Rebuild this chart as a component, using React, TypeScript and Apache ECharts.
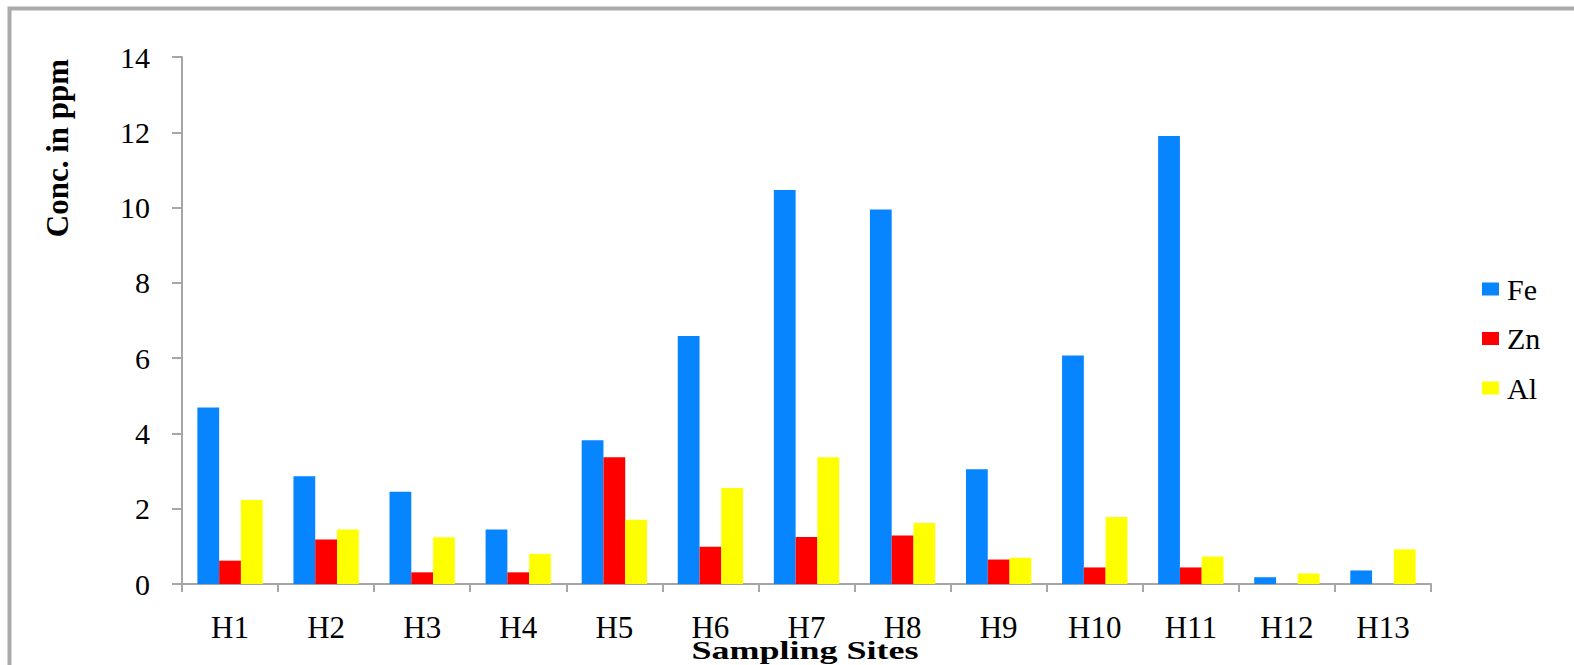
import React, { useEffect, useRef } from "react";
import * as echarts from "echarts";

// Sampling sites and measured concentrations (ppm)
const sites = ["H1", "H2", "H3", "H4", "H5", "H6", "H7", "H8", "H9", "H10", "H11", "H12", "H13"];
const fe = [4.69, 2.86, 2.45, 1.45, 3.82, 6.59, 10.47, 9.95, 3.05, 6.07, 11.9, 0.18, 0.36];
const zn = [0.62, 1.18, 0.31, 0.31, 3.37, 0.99, 1.25, 1.29, 0.65, 0.44, 0.44, 0, 0];
const al = [2.23, 1.45, 1.24, 0.8, 1.71, 2.55, 3.37, 1.62, 0.7, 1.78, 0.73, 0.28, 0.92];

const SERIF = "Liberation Serif, Times New Roman, serif";
const AXIS_GRAY = "#a6a6a6";

export default function App() {
  const ref = useRef<HTMLDivElement>(null);

  useEffect(() => {
    if (!ref.current) return;
    const chart = echarts.init(ref.current, null, { renderer: "svg" });

    const bar = (name: string, data: number[], color: string) => ({
      name,
      type: "bar",
      data,
      barGap: "0%",
      barCategoryGap: "32%",
      itemStyle: { color },
    });

    const labelStyle = { fontFamily: SERIF, color: "#000", fontWeight: "normal" };

    chart.setOption({
      animation: false,
      backgroundColor: "#ffffff",
      textStyle: { fontFamily: SERIF },
      grid: { left: 182, right: 143, top: 57, bottom: 81, containLabel: false },
      legend: {
        orient: "vertical",
        left: 1482,
        top: 274,
        padding: 0,
        itemWidth: 17,
        itemHeight: 13,
        itemGap: 19.5,
        icon: "rect",
        textStyle: { ...labelStyle, fontSize: 30, padding: [0, 0, 0, 3] },
        data: ["Fe", "Zn", "Al"],
      },
      xAxis: {
        type: "category",
        data: sites,
        axisLine: { lineStyle: { color: AXIS_GRAY, width: 2 } },
        axisTick: { show: true, length: 8, lineStyle: { color: AXIS_GRAY, width: 2 } },
        axisLabel: { ...labelStyle, fontSize: 31, margin: 28 },
        splitLine: { show: false },
      },
      yAxis: {
        type: "value",
        min: 0,
        max: 14,
        interval: 2,
        axisLine: { show: true, lineStyle: { color: AXIS_GRAY, width: 2 } },
        axisTick: { show: true, length: 10, lineStyle: { color: AXIS_GRAY, width: 2 } },
        axisLabel: { ...labelStyle, fontSize: 30, margin: 32 },
        splitLine: { show: false },
      },
      graphic: [
        {
          type: "rect",
          shape: { x: 9.5, y: 8.5, width: 1620, height: 720 },
          style: { fill: "none", stroke: "#ababab", lineWidth: 4 },
          silent: true,
          z: -1,
        },
        {
          type: "text",
          x: 57,
          y: 148,
          rotation: Math.PI / 2,
          style: {
            text: "Conc. in ppm",
            fontFamily: SERIF,
            fontWeight: "bold",
            fontSize: 31,
            fill: "#000",
            align: "center",
            verticalAlign: "middle",
          },
        },
        {
          type: "text",
          x: 805,
          y: 651,
          scaleX: 1.2,
          scaleY: 0.82,
          style: {
            text: "Sampling Sites",
            fontFamily: SERIF,
            fontWeight: "bold",
            fontSize: 30,
            fill: "#000",
            align: "center",
            verticalAlign: "middle",
          },
        },
      ],
      series: [bar("Fe", fe, "#0685ff"), bar("Zn", zn, "#ff0000"), bar("Al", al, "#ffff00")],
    });

    return () => chart.dispose();
  }, []);

  return (
    <div
      ref={ref}
      style={{ position: "absolute", left: 0, top: 0, width: 1574, height: 665, background: "#fff" }}
    />
  );
}
